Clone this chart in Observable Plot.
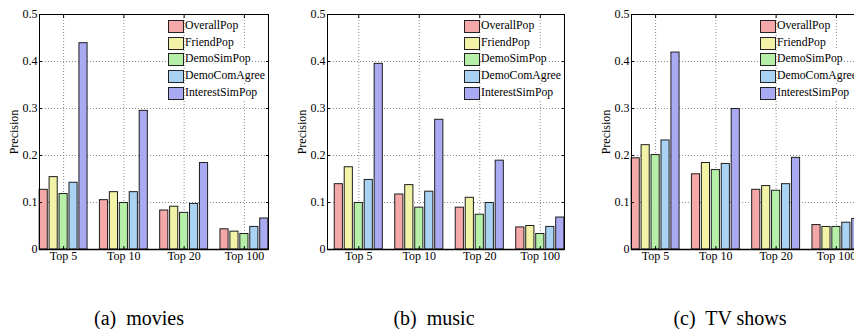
<!DOCTYPE html>
<html>
<head>
<meta charset="utf-8">
<script src="https://cdn.jsdelivr.net/npm/d3@7"></script>
<script src="https://cdn.jsdelivr.net/npm/@observablehq/plot@0.6"></script>
<style>
  html, body { margin: 0; padding: 0; background: #fff; overflow: hidden; width: 854px; height: 329px; }
  #fig { position: relative; width: 854px; height: 329px; overflow: hidden; }
  .panel { position: absolute; top: 0; }
  .panel svg { max-width: none !important; display: block; }
  .panel svg, .panel svg text { font-family: "Liberation Serif", "Times New Roman", serif !important; }
  .legend { position: absolute; font-family: "Liberation Serif", "Times New Roman", serif; font-size: 13px; color: #000; }
  .row { position: absolute; left: 0; height: 13px; white-space: nowrap; }
  .swatch { position: absolute; left: 0; top: 0; width: 14px; height: 11px; border: 1px solid #222; }
  .label { position: absolute; left: 17px; top: -3px; line-height: 16px; background: #fff; transform: scaleX(0.9); transform-origin: left center; }
  .caption { position: absolute; top: 307px; font-family: "Liberation Serif", "Times New Roman", serif; font-size: 20px; white-space: pre; transform: translateX(-50%); }
</style>
</head>
<body>
<div id="fig"></div>
<script>
// Recommendation list lengths (x categories) and the five methods compared
const groups = ["Top 5", "Top 10", "Top 20", "Top 100"];
const methods = ["OverallPop", "FriendPop", "DemoSimPop", "DemoComAgree", "InterestSimPop"];
const colors = ["#f4a8a8", "#f3f3a8", "#b6f0a8", "#aad3f3", "#aaaaf3"];

// Precision per method (rows) over Top 5 / 10 / 20 / 100 (columns)
const movies = [
  [0.127, 0.105, 0.083, 0.043],
  [0.154, 0.122, 0.091, 0.038],
  [0.118, 0.099, 0.078, 0.033],
  [0.142, 0.122, 0.097, 0.048],
  [0.439, 0.295, 0.184, 0.066]
];
const music = [
  [0.139, 0.117, 0.089, 0.047],
  [0.175, 0.137, 0.110, 0.050],
  [0.099, 0.089, 0.074, 0.033],
  [0.148, 0.123, 0.099, 0.048],
  [0.395, 0.276, 0.189, 0.068]
];
const tvShows = [
  [0.194, 0.160, 0.127, 0.052],
  [0.222, 0.184, 0.135, 0.048],
  [0.201, 0.169, 0.125, 0.048],
  [0.232, 0.182, 0.139, 0.057],
  [0.419, 0.299, 0.195, 0.065]
];

const yTicks = [0, 0.1, 0.2, 0.3, 0.4, 0.5];
const captions = ["(a)  movies", "(b)  music", "(c)  TV shows"];

// bar layout inside each group (in x-scale units, one unit per group)
const pitch = 0.165;
const barWidth = 0.135;

const fig = document.getElementById("fig");

function drawPanel(values, {left, xStart, frameWidth, caption, captionCenter}) {
  const rows = [];
  values.forEach((series, m) => series.forEach((v, g) => {
    rows.push({method: methods[m], group: groups[g], value: v, pos: g + 1 + (m - 2) * pitch});
  }));

  const marginLeft = 39, marginRight = 4;
  const width = marginLeft + frameWidth + marginRight;
  const chart = Plot.plot({
    width,
    height: 270,
    marginLeft, marginRight,
    marginTop: 14,
    marginBottom: 21,
    x: {domain: [xStart, 4.4]},
    y: {domain: [0, 0.5]},
    color: {domain: methods, range: colors},
    style: {fontFamily: "Liberation Serif, serif", fontSize: "12px", color: "#000", background: "transparent", overflow: "visible"},
    marks: [
      Plot.gridY(yTicks.slice(1, -1), {stroke: "#8a8a8a", strokeOpacity: 1, strokeDasharray: "1,2"}),
      Plot.gridX([1, 2, 3, 4], {stroke: "#8a8a8a", strokeOpacity: 1, strokeDasharray: "1,2"}),
      Plot.rect(rows, {
        x1: d => d.pos - barWidth / 2,
        x2: d => d.pos + barWidth / 2,
        y1: 0,
        y2: "value",
        fill: "method",
        stroke: "#1e1e1e",
        strokeWidth: 1
      }),
      Plot.ruleY([0], {stroke: "#000", strokeWidth: 1.5}),
      Plot.frame({stroke: "#000"}),
      Plot.axisY(yTicks, {
        anchor: "left", tickSize: -3, tickPadding: 5,
        tickFormat: d => d === 0 ? "0" : d3.format(".1f")(d),
        label: "Precision", labelAnchor: "center", labelArrow: "none", labelOffset: 30
      }),
      Plot.axisY(yTicks, {anchor: "right", tickSize: -3, tickFormat: () => "", label: null}),
      Plot.axisX([1, 2, 3, 4], {anchor: "bottom", tickSize: -3, tickPadding: 5, tickFormat: d => groups[d - 1], label: null}),
      Plot.axisX([1, 2, 3, 4], {anchor: "top", tickSize: -3, tickFormat: () => "", label: null})
    ]
  });

  const wrap = document.createElement("div");
  wrap.className = "panel";
  wrap.style.left = left + "px";
  wrap.style.width = width + "px";
  wrap.appendChild(chart);
  fig.appendChild(wrap);

  // legend in the upper right corner of the axes box
  const frameRight = left + marginLeft + frameWidth;
  const legend = document.createElement("div");
  legend.className = "legend";
  legend.style.left = (frameRight - 100) + "px";
  legend.style.top = "20px";
  methods.forEach((name, i) => {
    const row = document.createElement("div");
    row.className = "row";
    row.style.top = (i * 16.7) + "px";
    const sw = document.createElement("div");
    sw.className = "swatch";
    sw.style.background = colors[i];
    const lab = document.createElement("span");
    lab.className = "label";
    lab.textContent = name;
    row.appendChild(sw);
    row.appendChild(lab);
    legend.appendChild(row);
  });
  fig.appendChild(legend);

  const cap = document.createElement("div");
  cap.className = "caption";
  cap.style.left = captionCenter + "px";
  cap.textContent = caption;
  fig.appendChild(cap);
}

drawPanel(movies, {left: 0, xStart: 0.6, frameWidth: 229, caption: captions[0], captionCenter: 139});
drawPanel(music, {left: 288, xStart: 0.483, frameWidth: 237, caption: captions[1], captionCenter: 434});
drawPanel(tvShows, {left: 592, xStart: 0.6, frameWidth: 229, caption: captions[2], captionCenter: 730});
</script>
</body>
</html>
